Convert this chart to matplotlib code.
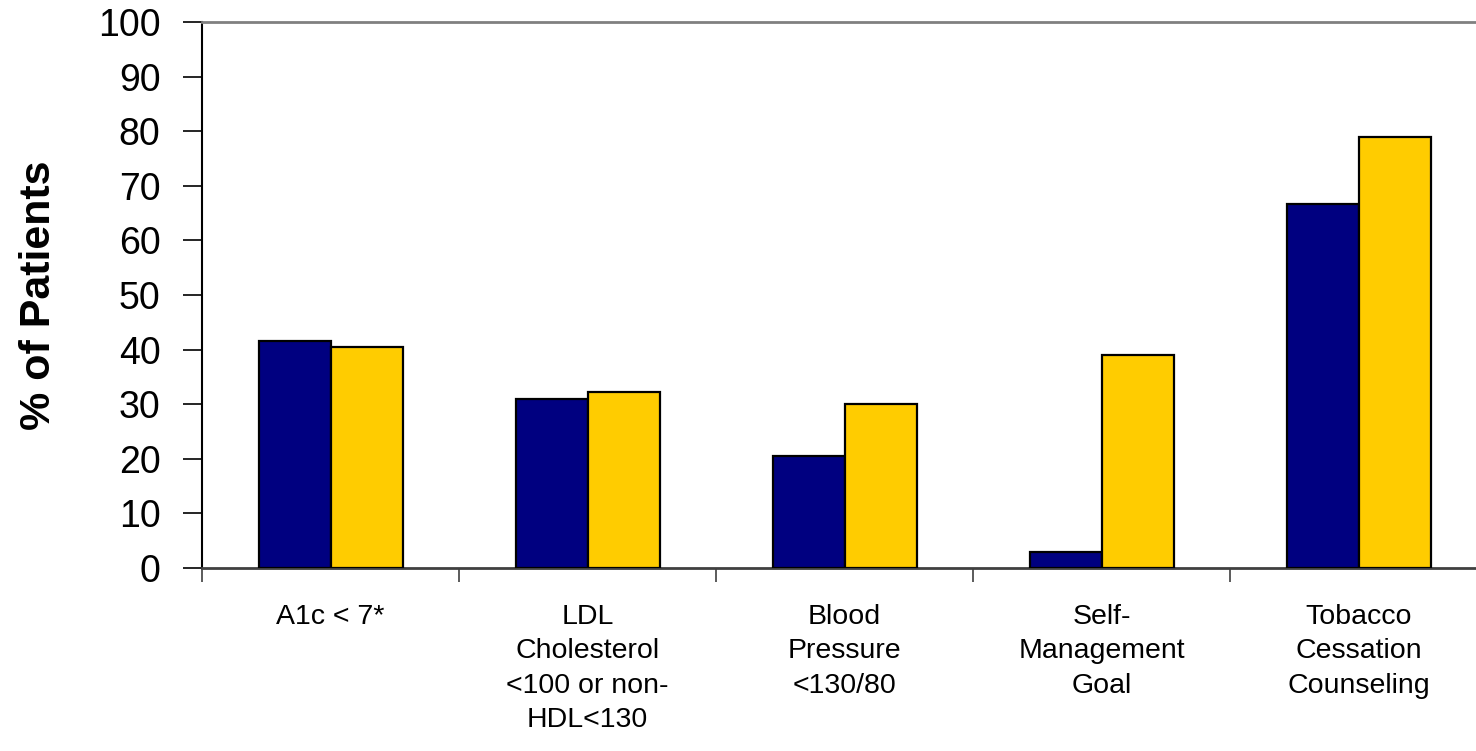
import numpy as np
import matplotlib.pyplot as plt

plt.rcParams['font.family'] = ['Liberation Sans', 'DejaVu Sans']

categories = ['A1c < 7*', 'LDL\nCholesterol\n<100 or non-\nHDL<130', 'Blood\nPressure\n<130/80',
              'Self-\nManagement\nGoal', 'Tobacco\nCessation\nCounseling']
before = [41.6, 30.9, 20.6, 2.9, 66.7]
after = [40.4, 32.3, 30.1, 39.0, 78.9]

x = np.arange(len(categories))
w = 0.28

fig = plt.figure(figsize=(14.76, 7.51), dpi=100)
ax = fig.add_axes([0.1369, 0.2437, 0.8706, 0.727])

ax.bar(x - w, before, width=w, align='edge', color='#000080', edgecolor='black', lw=1.6, zorder=3)
ax.bar(x, after, width=w, align='edge', color='#FFCC00', edgecolor='black', lw=1.6, zorder=3)

ax.set_xlim(-0.5, len(categories) - 0.5)
ax.set_ylim(0, 100)
ax.set_yticks(range(0, 101, 10))
ax.tick_params(axis='y', length=14, width=1.2, color='black', labelsize=27, pad=16)

ax.set_xticks(np.arange(-0.5, len(categories), 1.0))
ax.set_xticklabels([])
ax.set_xticks(x, minor=True)
ax.set_xticklabels(categories, minor=True, fontsize=20.5, linespacing=1.42)
ax.tick_params(axis='x', which='major', length=10, width=1.2, color='#404040')
ax.tick_params(axis='x', which='minor', length=0, pad=26)

ax.spines['right'].set_visible(False)
ax.spines['top'].set_color('#808080')
ax.spines['top'].set_linewidth(2)
ax.spines['bottom'].set_color('#404040')
ax.spines['bottom'].set_linewidth(2)
ax.spines['left'].set_linewidth(1.5)

ax.set_ylabel('% of Patients', fontsize=31, fontweight='bold', labelpad=28)

plt.savefig('out.png')
